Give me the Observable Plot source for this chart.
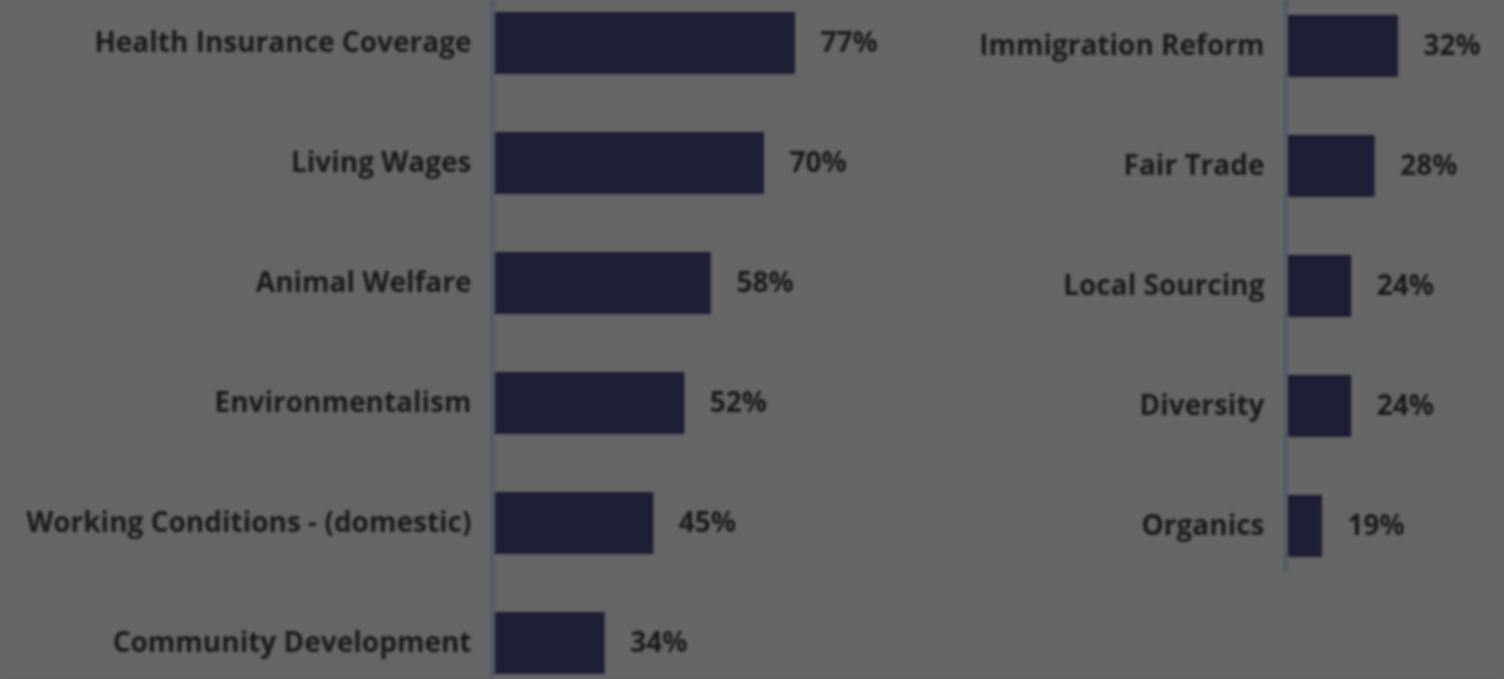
<!DOCTYPE html>
<html><head><meta charset="utf-8">
<script src="https://cdn.jsdelivr.net/npm/d3@7"></script>
<script src="https://cdn.jsdelivr.net/npm/@observablehq/plot@0.6"></script>
<style>
html,body{margin:0;padding:0;background:#666666;}
#wrap{position:relative;width:1504px;height:679px;overflow:hidden;background:#666666;filter:blur(1.5px);}
#left{position:absolute;left:0;top:0;}
#right{position:absolute;left:940px;top:0;}
svg{overflow:visible;}
</style></head><body><div id="wrap"><div id="left"></div><div id="right"></div></div>
<script>
const leftCategories = ["Health Insurance Coverage","Living Wages","Animal Welfare","Environmentalism","Working Conditions - (domestic)","Community Development"];
const leftValues = [77,70,58,52,45,34];
const rightCategories = ["Immigration Reform","Fair Trade","Local Sourcing","Diversity","Organics"];
const rightValues = [32,28,24,24,19];
const leftDomain = [9, 77];
const rightDomain = [13, 32];

const barColor = "#1e1e34";
const textColor = "#1a1a1a";
const axisColor = "#545b68";
const font = "'Open Sans', Lato, sans-serif";

const leftData = leftCategories.map((c, i) => ({label: c, value: leftValues[i]}));
const rightData = rightCategories.map((c, i) => ({label: c, value: rightValues[i]}));

function panel(data, cats, domain, opts) {
  return Plot.plot({
    width: opts.width, height: opts.height,
    marginLeft: opts.marginLeft, marginRight: opts.marginRight, marginTop: 0, marginBottom: 0,
    x: {domain, axis: null},
    y: {domain: cats, range: opts.yRange, padding: 0, axis: null},
    style: {background: "transparent", fontFamily: font, overflow: "visible"},
    marks: [
      Plot.barX(data, {x1: domain[0], x2: "value", y: "label", fill: barColor, insetTop: 29, insetBottom: 29}),
      Plot.ruleX([domain[0]], {stroke: axisColor, strokeWidth: 5, dx: -2}),
      Plot.text(data, {x: domain[0], y: "label", text: "label", textAnchor: "end", dx: -23, fontSize: 28, fontWeight: "bold", fill: textColor}),
      Plot.text(data, {x: "value", y: "label", text: d => d.value + "%", textAnchor: "start", dx: 25, fontSize: 28, fontWeight: "bold", fill: textColor})
    ]
  });
}

document.getElementById("left").append(panel(leftData, leftCategories, leftDomain, {width: 940, height: 679, marginLeft: 494, marginRight: 145, yRange: [-19, 705]}));
document.getElementById("right").append(panel(rightData, rightCategories, rightDomain, {width: 564, height: 572, marginLeft: 347, marginRight: 106, yRange: [-15, 587]}));
</script>
</body></html>
